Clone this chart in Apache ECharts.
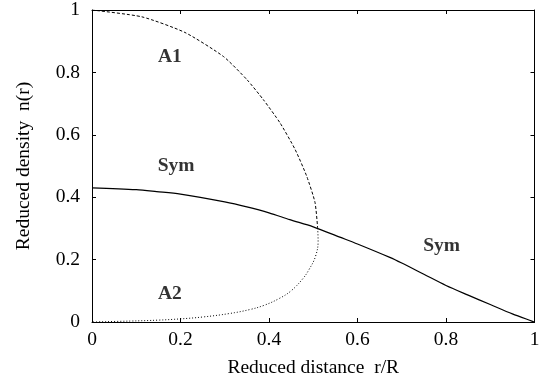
<!DOCTYPE html>
<html><head><meta charset="utf-8">
<script src="https://cdn.jsdelivr.net/npm/echarts@6/dist/echarts.min.js"></script>
<style>html,body{margin:0;padding:0;background:#fff}#c{width:551px;height:387px}</style>
</head><body><div id="c"></div>
<script>
const xTicks = [0, 0.2, 0.4, 0.6, 0.8, 1];
const yTicks = [0, 0.2, 0.4, 0.6, 0.8, 1];
const symR = [0, 0.1, 0.146, 0.2, 0.3, 0.35, 0.4, 0.447, 0.5, 0.56, 0.6, 0.673, 0.7, 0.75, 0.8, 0.85, 0.9, 0.95, 0.994, 1];
const symN = [0.43, 0.424, 0.418, 0.41, 0.385, 0.369, 0.35, 0.328, 0.305, 0.272, 0.25, 0.207, 0.189, 0.153, 0.117, 0.086, 0.056, 0.026, 0.003, 0];
const a1R = [0, 0.113, 0.21, 0.297, 0.35, 0.387, 0.425, 0.459, 0.485, 0.504, 0.51];
const a1N = [1, 0.978, 0.928, 0.851, 0.777, 0.713, 0.638, 0.553, 0.468, 0.383, 0.30];
const a2R = [0.51, 0.511, 0.505, 0.49, 0.476, 0.45, 0.424, 0.39, 0.357, 0.31, 0.25, 0.2, 0.15, 0.086, 0];
const a2N = [0.30, 0.26, 0.21, 0.167, 0.138, 0.1, 0.076, 0.054, 0.04, 0.027, 0.016, 0.01, 0.006, 0.003, 0];
const noteText = ['A1', 'Sym', 'A2', 'Sym'];
const noteR = [0.176, 0.19, 0.176, 0.79];
const noteN = [0.85, 0.5, 0.09, 0.245];

const F = '"Liberation Serif", "Times New Roman", serif';
const FS = 19.5;
const zip = (a, b) => a.map((v, i) => [v, b[i]]);
const chart = echarts.init(document.getElementById('c'), null, {renderer: 'canvas'});
const axisCommon = {
  type: 'value', min: 0, max: 1, interval: 0.2,
  axisLine: {show: true, onZero: false, lineStyle: {color: '#000', width: 1}},
  axisTick: {show: true, inside: true, length: 4, lineStyle: {color: '#000'}},
  splitLine: {show: false}
};
const fmt = arr => v => arr.includes(+v.toFixed(2)) ? String(+v.toFixed(2)) : '';
chart.setOption({
  animation: false,
  grid: {left: 92, right: 16.5, top: 8, bottom: 65},
  xAxis: [
    Object.assign({}, axisCommon, {
      position: 'bottom',
      name: 'Reduced distance  r/R', nameLocation: 'middle', nameGap: 36,
      nameTextStyle: {fontFamily: F, fontSize: FS, color: '#000'},
      axisLabel: {fontFamily: F, fontSize: FS, color: '#000', margin: 8, formatter: fmt(xTicks)}
    }),
    Object.assign({}, axisCommon, {position: 'top', axisLabel: {show: false}})
  ],
  yAxis: [
    Object.assign({}, axisCommon, {
      position: 'left',
      name: 'Reduced density  n(r)', nameLocation: 'middle', nameGap: 58,
      nameTextStyle: {fontFamily: F, fontSize: FS, color: '#000'},
      axisLabel: {fontFamily: F, fontSize: FS, color: '#000', margin: 12, formatter: fmt(yTicks)}
    }),
    Object.assign({}, axisCommon, {position: 'right', axisLabel: {show: false}})
  ],
  series: [
    {type: 'line', data: zip(symR, symN), showSymbol: false, smooth: 0.3,
      lineStyle: {color: '#000', width: 1.2}},
    {type: 'line', data: zip(a1R, a1N), showSymbol: false, smooth: 0.2,
      lineStyle: {color: '#000', width: 1, type: [3, 2]}},
    {type: 'line', data: zip(a2R, a2N), showSymbol: false, smooth: 0.4,
      lineStyle: {color: '#000', width: 1, type: [1, 2]}},
    {type: 'scatter', data: zip(noteR, noteN), symbolSize: 1,
      itemStyle: {color: 'rgba(0,0,0,0)'},
      label: {show: true, position: 'inside', fontFamily: F, fontSize: FS, fontWeight: 'bold', color: '#000',
        formatter: p => noteText[p.dataIndex]}}
  ]
});
</script></body></html>
